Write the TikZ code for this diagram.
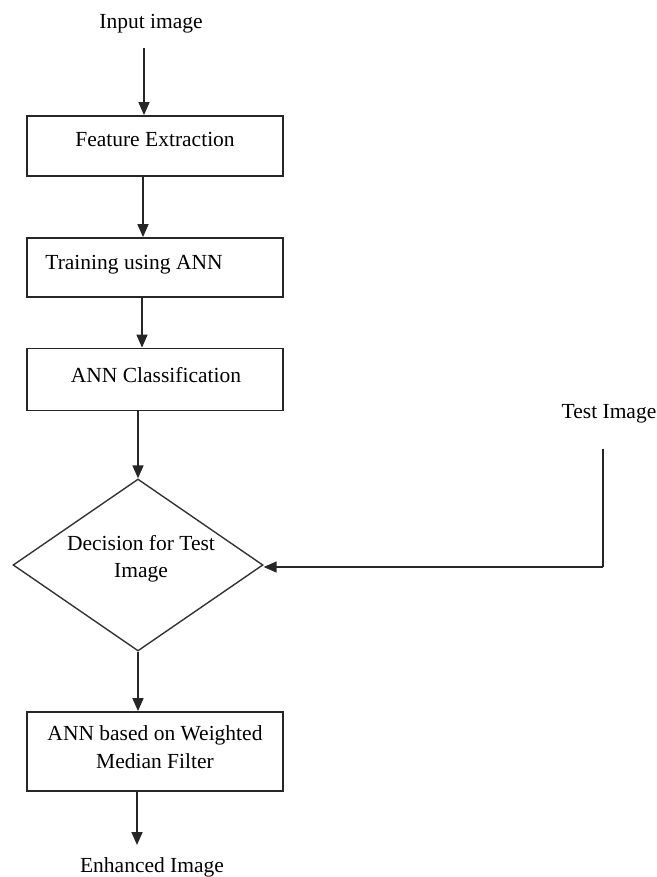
\documentclass[tikz,border=0pt]{standalone}
\usepackage{fontspec}
\setmainfont{Liberation Serif}
\usetikzlibrary{arrows.meta,shapes.geometric}
\begin{document}
\begin{tikzpicture}[x=1pt,y=-1pt,
  boxstyle/.style={draw=black!85,line width=1.8pt,minimum width=256pt,inner sep=0pt},
  txt/.style={font=\fontsize{21.5}{26}\selectfont,anchor=base,inner sep=0pt},
  arr/.style={draw=black!85,line width=1.6pt,-{Triangle[width=11pt,length=13pt]}},
  ln/.style={draw=black!85,line width=1.6pt}]
\useasboundingbox (0,0) rectangle (656,877);
% texts outside
\node[txt] (in) at (151,29) {Input image};
\node[txt] (ti) at (609,418) {Test Image};
\node[txt] (out) at (152,872) {Enhanced Image};
% boxes
\node[boxstyle,minimum height=60pt] (b1) at (155,146) {};
\node[txt] (b1t) at (155,147) {Feature Extraction};
\node[boxstyle,minimum height=59pt] (b2) at (155,267.5) {};
\node[txt] (b2t) at (134,269) {Training using ANN};
\node[boxstyle,minimum height=62pt] (b3) at (155,379.5) {};
\node[txt] (b3t) at (156,382) {ANN Classification};
\node[draw=black!80,line width=1.4pt,diamond,aspect=1.4535,minimum width=250pt,minimum height=172pt,inner sep=0pt] (d) at (138,565) {};
\node[txt] (dt1) at (141,550) {Decision for Test};
\node[txt] (dt2) at (141,577) {Image};
\node[boxstyle,minimum height=79pt] (b5) at (155,751.5) {};
\node[txt] (b5t1) at (155,740) {ANN based on Weighted};
\node[txt] (b5t2) at (155,768) {Median Filter};
% coordinates
\coordinate (inend) at (144,48);
\coordinate (tistart) at (603,449);
\coordinate (titurn) at (603,567);
\coordinate (outend) at (137,845);
\coordinate (c1) at (143,0);
\coordinate (c2) at (142,0);
% connectors
\draw[arr] (inend) -- (inend |- b1.north);
\draw[arr] (c1 |- b1.south) -- (c1 |- b2.north);
\draw[arr] (c2 |- b2.south) -- (c2 |- b3.north);
\draw[arr] (d.north |- b3.south) -- (d.north);
\draw[ln] (tistart) -- (titurn);
\draw[arr] (titurn) -- (d.east |- titurn);
\draw[arr] (d.south) -- (d.south |- b5.north);
\draw[arr] (outend |- b5.south) -- (outend);
\end{tikzpicture}
\end{document}
